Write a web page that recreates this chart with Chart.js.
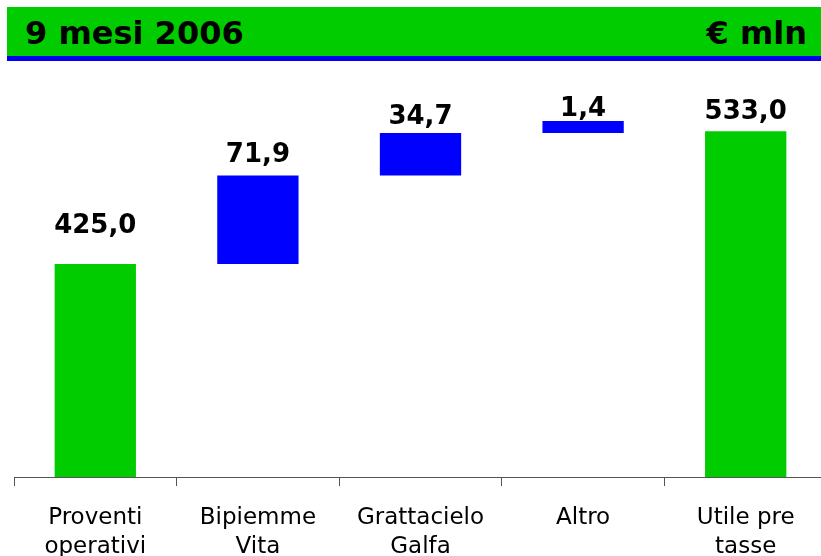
<!DOCTYPE html>
<html>
<head>
<meta charset="utf-8">
<script src="https://cdn.jsdelivr.net/npm/chart.js@4/dist/chart.umd.min.js"></script>
<style>
  html, body { margin: 0; padding: 0; background: #fff; overflow: hidden; }
  body { width: 821px; height: 556px; position: relative; }
  #header {
    position: absolute; left: 7px; top: 7px; width: 814px; height: 49px;
    background: #00CC00; border-bottom: 5px solid #0000EE;
    font-family: "DejaVu Sans", Verdana, sans-serif; font-weight: bold; font-size: 32px;
    line-height: 52px; color: #000;
  }
  #header .left { position: absolute; left: 18px; }
  #header .right { position: absolute; right: 14px; }
  #wrap { position: absolute; left: 0; top: 61px; width: 830px; height: 519px; }
  #waterfall { display: block; }
</style>
</head>
<body>
<div id="header"><span class="left">9 mesi 2006</span><span class="right">€ mln</span></div>
<div id="wrap"><canvas id="waterfall" width="830" height="519"></canvas></div>
<script>
// categories and values (€ mln)
var categories = [['Proventi', 'operativi'], ['Bipiemme', 'Vita'], ['Grattacielo', 'Galfa'], 'Altro', ['Utile pre', 'tasse']];
var values = [425.0, 71.9, 34.7, 1.4, 533.0];
var isTotal = [true, false, false, false, true];

var green = '#00CC00';
var blue = '#0000FF';

// build floating bars from the values
var running = 0;
var bars = values.map(function (v, i) {
    if (isTotal[i]) {
        running = v;
        return [0, v];
    }
    var from = running;
    running = running + v;
    return [from, running];
});
var colors = isTotal.map(function (t) { return t ? green : blue; });

// draws the value labels above each bar
var valueLabels = {
    id: 'valueLabels',
    afterDatasetsDraw: function (chart, args, opts) {
        var ctx = chart.ctx;
        var meta = chart.getDatasetMeta(0);
        ctx.save();
        ctx.font = 'bold 26px "DejaVu Sans", Verdana, sans-serif';
        ctx.fillStyle = '#000';
        ctx.textAlign = 'center';
        ctx.textBaseline = 'alphabetic';
        meta.data.forEach(function (bar, i) {
            var top = Math.min(bar.y, bar.base);
            var txt = values[i].toFixed(1).replace('.', ',');
            ctx.fillText(txt, bar.x, top - opts.lift[i]);
        });
        ctx.restore();
    }
};

var ctx = document.getElementById('waterfall').getContext('2d');
new Chart(ctx, {
    type: 'bar',
    data: {
        labels: categories,
        datasets: [{
            data: bars,
            backgroundColor: colors,
            borderWidth: 0,
            barPercentage: 0.5,
            categoryPercentage: 1.0,
            minBarLength: 12
        }]
    },
    options: {
        responsive: false,
        animation: false,
        devicePixelRatio: 1,
        layout: { padding: { left: 14, right: 3, top: 0, bottom: 0 } },
        plugins: {
            legend: { display: false },
            tooltip: { enabled: false },
            valueLabels: { lift: [31, 14, 9, 5, 12] }
        },
        scales: {
            x: {
                offset: true,
                grid: {
                    offset: true,
                    drawOnChartArea: false,
                    drawTicks: true,
                    tickLength: 9,
                    color: '#555'
                },
                border: { display: true, color: '#555', width: 1 },
                ticks: {
                    color: '#000',
                    padding: 18,
                    maxRotation: 0,
                    autoSkip: false,
                    font: { family: '"DejaVu Sans", Verdana, sans-serif', size: 23, lineHeight: 1.26 }
                }
            },
            y: {
                display: false,
                min: 252,
                max: 590
            }
        }
    },
    plugins: [valueLabels]
});
</script>
</body>
</html>
